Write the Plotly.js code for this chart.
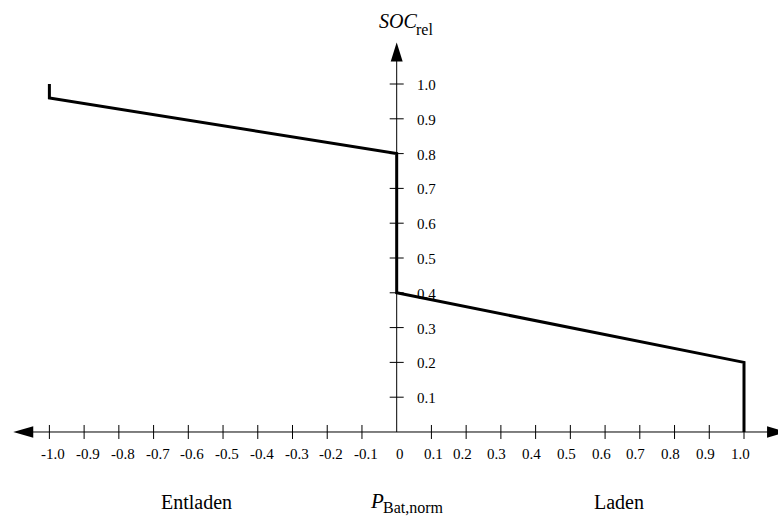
<!DOCTYPE html>
<html>
<head>
<meta charset="utf-8">
<script src="https://cdn.plot.ly/plotly-3.0.1.min.js"></script>
<style>html,body{margin:0;padding:0;background:#fff;}#chart{width:778px;height:517px;}</style>
</head>
<body>
<div id="chart"></div>
<script>
// ---- data ----
var curveX = [-1.0, -1.0, 0.0, 0.0, 1.0, 1.0];
var curveY = [1.0, 0.96, 0.8, 0.4, 0.2, 0.0];

var xTickValues = [-1.0,-0.9,-0.8,-0.7,-0.6,-0.5,-0.4,-0.3,-0.2,-0.1,0,0.1,0.2,0.3,0.4,0.5,0.6,0.7,0.8,0.9,1.0];
var xTickLabels = ["-1.0","-0.9","-0.8","-0.7","-0.6","-0.5","-0.4","-0.3","-0.2","-0.1","0","0.1","0.2","0.3","0.4","0.5","0.6","0.7","0.8","0.9","1.0"];
var yTickValues = [0.1,0.2,0.3,0.4,0.5,0.6,0.7,0.8,0.9,1.0];
var yTickLabels = ["0.1","0.2","0.3","0.4","0.5","0.6","0.7","0.8","0.9","1.0"];

var leftLabel = "Entladen";
var rightLabel = "Laden";
var xAxisMain = "P";
var xAxisSub = "Bat,norm";
var yAxisMain = "SOC";
var yAxisSub = "rel";

// ---- layout helpers ----
var FONT = "'Liberation Serif', 'DejaVu Serif', serif";
var xRange = [-1.1422, 1.0979];
var yRange = [-0.2443, 1.2414];
var xMin = -1.104, xMax = 1.124, yMax = 1.119;

var tickX = [], tickXY = [];
xTickValues.forEach(function(v){ if (v !== 0) { tickX.push(v); tickXY.push(0); } });
var tickYX = yTickValues.map(function(){ return 0; });

var traces = [
  {x: tickX, y: tickXY, mode: 'markers', hoverinfo: 'skip',
   marker: {symbol: 'line-ns', size: 10, color: '#000', line: {width: 1, color: '#000'}}},
  {x: tickYX, y: yTickValues, mode: 'markers', hoverinfo: 'skip',
   marker: {symbol: 'line-ew', size: 10, color: '#000', line: {width: 1, color: '#000'}}},
  {x: curveX, y: curveY, mode: 'lines', hoverinfo: 'skip',
   line: {color: '#000', width: 3}}
];

function xShift(v) {
  if (v < 0) return 4;
  if (v === 0) return 3;
  if (v === 0.1) return 2;
  return -4;
}

var annotations = [];
xTickValues.forEach(function(v, i){
  annotations.push({x: v, y: 0, xref: 'x', yref: 'y', text: xTickLabels[i], showarrow: false,
    xanchor: 'center', yanchor: 'middle', yshift: -22, xshift: xShift(v),
    font: {family: FONT, size: 15, color: '#000'}});
});
yTickValues.forEach(function(v, i){
  annotations.push({x: 0, y: v, xref: 'x', yref: 'y', text: yTickLabels[i], showarrow: false,
    xanchor: 'left', yanchor: 'middle', xshift: 18, yshift: -1,
    font: {family: FONT, size: 15, color: '#000'}});
});
annotations.push({x: 196.7/778, y: 1 - 502/517, xref: 'paper', yref: 'paper', text: leftLabel,
  showarrow: false, xanchor: 'center', yanchor: 'middle', font: {family: FONT, size: 20, color: '#000'}});
annotations.push({x: 619/778, y: 1 - 502/517, xref: 'paper', yref: 'paper', text: rightLabel,
  showarrow: false, xanchor: 'center', yanchor: 'middle', font: {family: FONT, size: 20, color: '#000'}});
annotations.push({x: 386/778, y: 1 - 501/517, xref: 'paper', yref: 'paper', text: '<i>' + xAxisMain + '</i>',
  showarrow: false, xanchor: 'right', yanchor: 'middle', font: {family: FONT, size: 21, color: '#000'}});
annotations.push({x: 381/778, y: 1 - 508/517, xref: 'paper', yref: 'paper', text: xAxisSub,
  showarrow: false, xanchor: 'left', yanchor: 'middle', font: {family: FONT, size: 16, color: '#000'}});
annotations.push({x: 419/778, y: 1 - 21/517, xref: 'paper', yref: 'paper', text: '<i>' + yAxisMain + '</i>',
  showarrow: false, xanchor: 'right', yanchor: 'middle', font: {family: FONT, size: 20, color: '#000'}});
annotations.push({x: 414/778, y: 1 - 29/517, xref: 'paper', yref: 'paper', text: yAxisSub,
  showarrow: false, xanchor: 'left', yanchor: 'middle', font: {family: FONT, size: 16, color: '#000'}});

var shapes = [
  {type: 'line', xref: 'x', yref: 'y', x0: xMin + 0.01, x1: xMax - 0.01, y0: 0, y1: 0, line: {color: '#000', width: 1}, layer: 'below'},
  {type: 'line', xref: 'x', yref: 'y', x0: 0, x1: 0, y0: 0, y1: yMax - 0.01, line: {color: '#000', width: 1}, layer: 'below'},
  {type: 'path', xref: 'x', yref: 'y', xsizemode: 'pixel', ysizemode: 'pixel', xanchor: xMin, yanchor: 0,
   path: 'M0,0 L20,5.7 L20,-5.7 Z', fillcolor: '#000', line: {color: '#000', width: 0}},
  {type: 'path', xref: 'x', yref: 'y', xsizemode: 'pixel', ysizemode: 'pixel', xanchor: xMax, yanchor: 0,
   path: 'M0,0 L-20,5.7 L-20,-5.7 Z', fillcolor: '#000', line: {color: '#000', width: 0}},
  {type: 'path', xref: 'x', yref: 'y', xsizemode: 'pixel', ysizemode: 'pixel', xanchor: 0, yanchor: yMax,
   path: 'M0,0 L-6,-19 L6,-19 Z', fillcolor: '#000', line: {color: '#000', width: 0}}
];

var layout = {
  width: 778, height: 517,
  margin: {l: 0, r: 0, t: 0, b: 0, pad: 0},
  paper_bgcolor: '#fff', plot_bgcolor: '#fff',
  showlegend: false,
  xaxis: {range: xRange, visible: false, fixedrange: true},
  yaxis: {range: yRange, visible: false, fixedrange: true},
  annotations: annotations,
  shapes: shapes,
  font: {family: FONT}
};

Plotly.newPlot('chart', traces, layout, {staticPlot: true, displayModeBar: false});
</script>
</body>
</html>
